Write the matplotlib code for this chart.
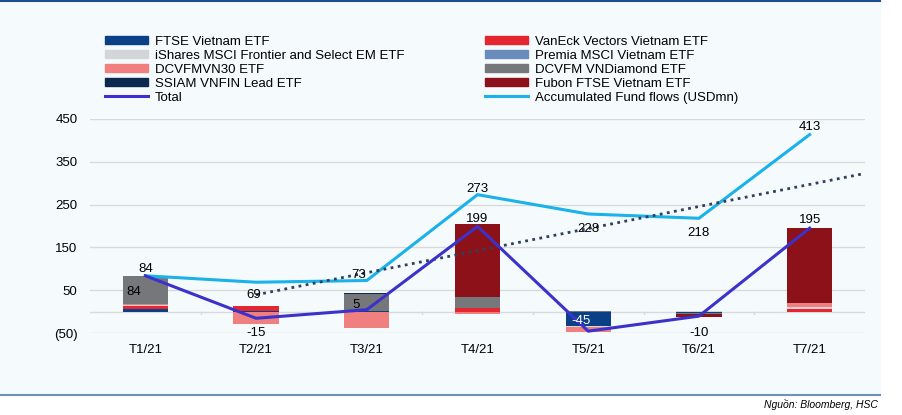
import matplotlib.pyplot as plt
import numpy as np
from matplotlib.patches import Patch, Rectangle
from matplotlib.lines import Line2D

plt.rcParams['font.family'] = ['Liberation Sans', 'DejaVu Sans']

# Data for the plot
months = ['T1/21', 'T2/21', 'T3/21', 'T4/21', 'T5/21', 'T6/21', 'T7/21']

# monthly flows by ETF (USDmn), stacked in this order
ftse = [6, 2, 3, 0, -32, -2, 0]
vaneck = [8, 11, 0, 8, 0, 0, 7]
ishares = [1, 1, 0, -1, -4, 1, 4]
premia = [1, 0, 0, 0, 0, 0, 1]
vn30 = [3, -29, -38, -4, -10, 1, 9]
diamond = [65, 0, 38, 27, 1, -4, 0]
ssiam = [0, 0, 2, 0, 0, 0, 0]
fubon = [0, 0, 0, 169, 0, -6, 174]

total = [84, -15, 5, 199, -45, -10, 195]
accumulated = [84, 69, 73, 273, 228, 218, 413]

series = [
    ('FTSE Vietnam ETF', ftse, '#0b3f86'),
    ('VanEck Vectors Vietnam ETF', vaneck, '#e3262f'),
    ('iShares MSCI Frontier and Select EM ETF', ishares, '#d3d5d9'),
    ('Premia MSCI Vietnam ETF', premia, '#6a8cbd'),
    ('DCVFMVN30 ETF', vn30, '#f07f80'),
    ('DCVFM VNDiamond ETF', diamond, '#76777a'),
    ('SSIAM VNFIN Lead ETF', ssiam, '#0c2a50'),
    ('Fubon FTSE Vietnam ETF', fubon, '#8c1118'),
]

fig = plt.figure(figsize=(9.03, 4.15), dpi=100)
fig.patch.set_facecolor('white')

# panel background and frame lines
fig.patches.append(Rectangle((0, 1 - 395 / 415), 880 / 903, 395 / 415,
                             transform=fig.transFigure, color='#f5fbfc', zorder=-5))
fig.add_artist(Line2D([0, 880 / 903], [1 - 1 / 415] * 2, color='#1f4e8c', lw=1.5))
fig.add_artist(Line2D([0, 880 / 903], [1 - 395 / 415] * 2, color='#6f8fbf', lw=1.5))

ax = fig.add_axes([90 / 903, 1 - 333.3 / 415, 775 / 903, 214.6 / 415])
ax.set_facecolor('none')

x = np.arange(len(months))
bar_width = 0.41

# stacked bars, positives and negatives stacked apart
pos_base = np.zeros(len(months))
neg_base = np.zeros(len(months))
for name, vals, color in series:
    v = np.array(vals, dtype=float)
    bottoms = np.where(v >= 0, pos_base, neg_base)
    ax.bar(x, v, bar_width, bottom=bottoms, color=color, zorder=2)
    pos_base += np.where(v > 0, v, 0)
    neg_base += np.where(v < 0, v, 0)

# lines
ax.plot(x, accumulated, color='#1ab2e8', lw=2.2, zorder=3)
ax.plot(x, total, color='#3b32cc', lw=2.2, zorder=4)

# linear trend of accumulated flows
coef = np.polyfit(x, accumulated, 1)
tx = np.array([1, 6.5])
ax.plot(tx, np.polyval(coef, tx - 1), color='#2f3f5c', lw=2, ls=(0, (1, 1.6)), zorder=3)

# data labels
total_off = [(-8, -14), (0, -13), (-8, 1), (0, 3), (-5, 5), (0, -14), (0, 4)]
accum_off = [(0, 3), (-2, -11), (-6, 2), (0, 2), (0, -13), (0, -13), (0, 3)]
for i in range(len(months)):
    ax.annotate(str(total[i]), (x[i], total[i]), xytext=total_off[i],
                textcoords='offset points', ha='center', fontsize=9.5,
                color='white' if i == 4 else 'black', zorder=5)
    ax.annotate(str(accumulated[i]), (x[i], accumulated[i]), xytext=accum_off[i],
                textcoords='offset points', ha='center', fontsize=9.5, zorder=5)

# axes styling
ax.set_xlim(-0.5, len(months) - 0.5)
ax.set_ylim(-50, 450)
yticks = [-50, 50, 150, 250, 350, 450]
ax.set_yticks(yticks)
ax.set_yticklabels(['(50)' if t < 0 else str(t) for t in yticks], fontsize=9.5)
ax.set_xticks(x)
ax.set_xticklabels(months, fontsize=9.5)
ax.tick_params(axis='both', length=0, pad=8)
ax.tick_params(axis='y', pad=9)
ax.grid(axis='y', color='#d9d9d9', lw=1, zorder=0)
ax.axhline(0, color='#d9d9d9', lw=1, zorder=1)
for b in np.arange(0.5, len(months) - 0.5, 1):
    ax.plot([b, b], [0, -4], color='#d9d9d9', lw=1, zorder=1)
for s in ax.spines.values():
    s.set_visible(False)

# legend in two columns
col1 = [series[0], series[2], series[4], series[6]]
col2 = [series[1], series[3], series[5], series[7]]
h1 = [Patch(color=c, label=n) for n, v, c in col1] + [Line2D([], [], color='#3b32cc', lw=2.2, label='Total')]
h2 = [Patch(color=c, label=n) for n, v, c in col2] + [Line2D([], [], color='#1ab2e8', lw=2.2, label='Accumulated Fund flows (USDmn)')]
for handles, xpos in [(h1, 98 / 903), (h2, 478 / 903)]:
    fig.legend(handles=handles, loc='upper left', bbox_to_anchor=(xpos, 1 - 29 / 415),
               frameon=False, fontsize=9.5, handlelength=3.3, handleheight=0.5,
               labelspacing=0.15, handletextpad=0.5, borderpad=0)

fig.text(878 / 903, 1 - 404 / 415, 'Nguồn: Bloomberg, HSC', ha='right', va='center',
         fontsize=7.5, style='italic')

plt.savefig('out.png', dpi=100)
